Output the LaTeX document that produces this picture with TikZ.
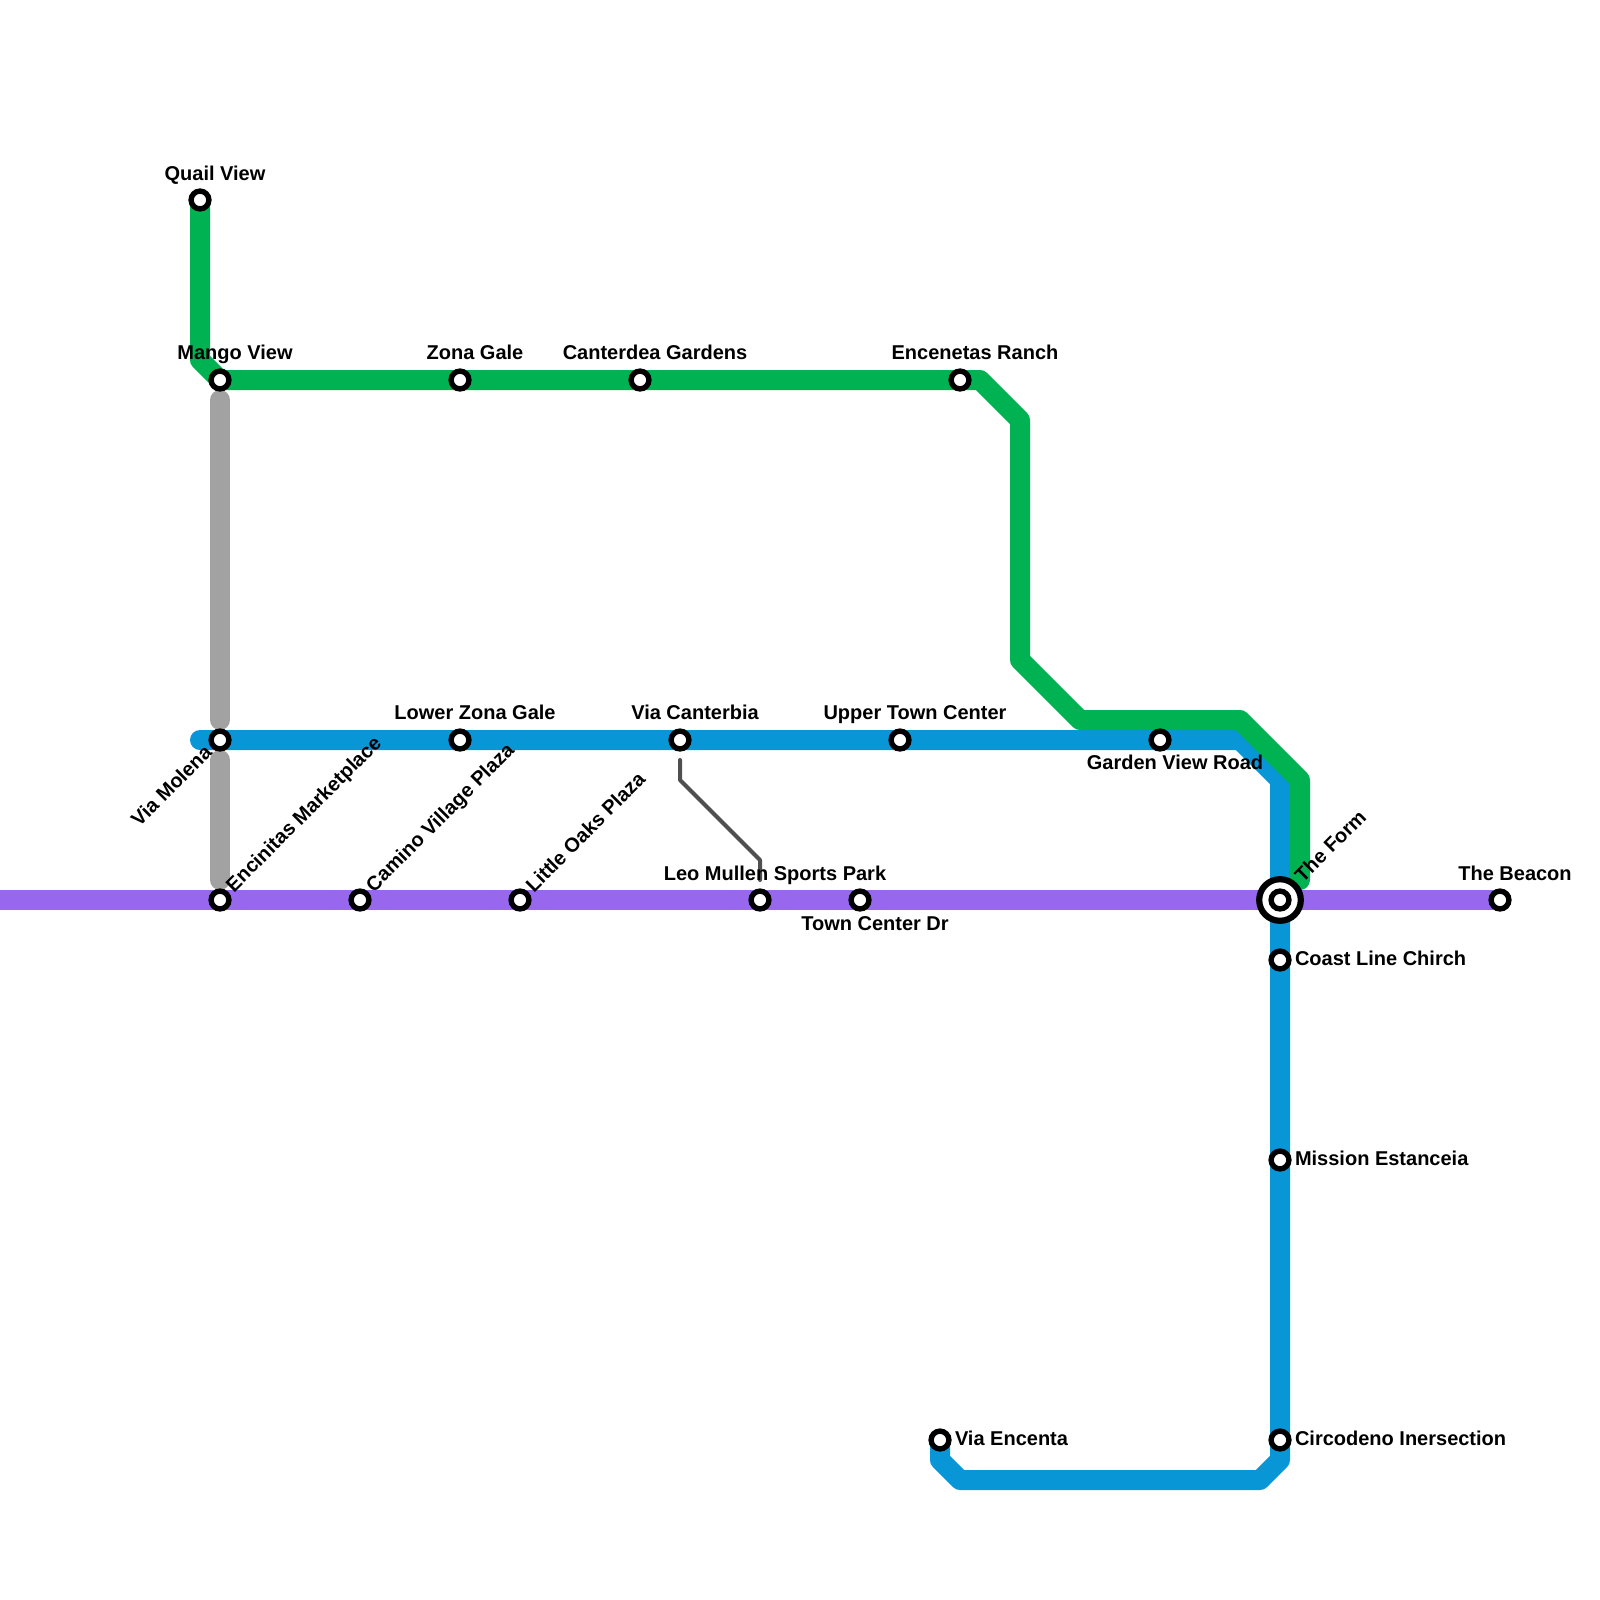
\documentclass[tikz,border=0pt]{standalone}
\usepackage{fontspec}
\setmainfont{Liberation Sans}
\usetikzlibrary{backgrounds}
\definecolor{lgreen}{HTML}{00B251}
\definecolor{lblue}{HTML}{0896D7}
\definecolor{lpurple}{HTML}{9768EE}
\definecolor{lgrey}{HTML}{A2A2A2}
\definecolor{ldark}{HTML}{4F4F4F}
\tikzset{
  x=1pt,y=-1pt,
  stn/.style={circle,draw=black,fill=white,line width=5.4pt,minimum size=17.8pt,inner sep=0pt,outer sep=0pt},
  hubring/.style={circle,draw=black,fill=white,line width=6.2pt,minimum size=41.6pt,inner sep=0pt,outer sep=0pt},
  metro/.style={line width=20pt,line join=round},
  lbl/.style={inner sep=0pt,outer sep=0pt,font=\bfseries\fontsize{20pt}{22pt}\selectfont,text=black},
  lup/.style={lbl,anchor=base},
  lside/.style={lbl,anchor=base west},
  ldiag/.style={lbl,anchor=base west,rotate=45},
  ldiagl/.style={lbl,anchor=base east,rotate=45},
}
\begin{document}
\begin{tikzpicture}
\useasboundingbox (0,0) rectangle (1600,1600);
% stations
\node[stn] (quail) at (200,200) {};
\node[stn] (mango) at (220,380) {};
\node[stn] (zona) at (460,380) {};
\node[stn] (canterdea) at (640,380) {};
\node[stn] (encenetas) at (960,380) {};
\node[stn] (molena) at (220,740) {};
\node[stn] (lowerzona) at (460,740) {};
\node[stn] (canterbia) at (680,740) {};
\node[stn] (uppertown) at (900,740) {};
\node[stn] (garden) at (1160,740) {};
\node[stn] (encinitas) at (220,900) {};
\node[stn] (camino) at (360,900) {};
\node[stn] (oaks) at (520,900) {};
\node[stn] (leo) at (760,900) {};
\node[stn] (towncenter) at (860,900) {};
\node[hubring] (formring) at (1280,900) {};
\node[stn] (form) at (1280,900) {};
\node[stn] (beacon) at (1500,900) {};
\node[stn] (coast) at (1280,960) {};
\node[stn] (mission) at (1280,1160) {};
\node[stn] (circodeno) at (1280,1440) {};
\node[stn] (encenta) at (940,1440) {};
% free ends and bends
\coordinate (gA) at (200,360);
\coordinate (gB) at (980,380);
\coordinate (gC) at (1020,420);
\coordinate (gD) at (1020,660);
\coordinate (gE) at (1080,720);
\coordinate (gF) at (1240,720);
\coordinate (gG) at (1300,780);
\coordinate (gH) at (1300,880);
\coordinate (bStart) at (200,740);
\coordinate (bA) at (1240,740);
\coordinate (bB) at (1280,780);
\coordinate (bC) at (1280,1460);
\coordinate (bD) at (1260,1480);
\coordinate (bE) at (960,1480);
\coordinate (bF) at (940,1460);
\coordinate (pStart) at (0,900);
\coordinate (sA) at (220,400);
\coordinate (sB) at (220,720);
\coordinate (sC) at (220,760);
\coordinate (sD) at (220,880);
\coordinate (dA) at (680,760);
\coordinate (dB) at (680,780);
\coordinate (dC) at (760,860);
\coordinate (dD) at (760,880);
\begin{scope}[on background layer]
\draw[metro,lgrey,line cap=round] (sA) -- (sB);
\draw[metro,lgrey,line cap=round] (sC) -- (sD);
\draw[metro,lpurple] (pStart) -- (encinitas.center) -- (camino.center) -- (oaks.center) -- (leo.center) -- (towncenter.center) -- (form.center) -- (beacon.center);
\draw[metro,lblue,line cap=round] (bStart) -- (molena.center) -- (lowerzona.center) -- (canterbia.center) -- (uppertown.center) -- (garden.center) -- (bA) -- (bB) -- (form.center) -- (coast.center) -- (mission.center) -- (circodeno.center) -- (bC) -- (bD) -- (bE) -- (bF) -- (encenta.center);
\draw[metro,lgreen,line cap=round] (quail.center) -- (gA) -- (mango.center) -- (zona.center) -- (canterdea.center) -- (encenetas.center) -- (gB) -- (gC) -- (gD) -- (gE) -- (gF) -- (gG) -- (gH);
\draw[ldark,line width=4pt,line cap=round,line join=round] (dA) -- (dB) -- (dC) -- (dD);
\end{scope}
% labels
\node[lup] (lquail) at (215,180) {Quail View};
\node[lup] (lmango) at (235,359) {Mango View};
\node[lup] (lzona) at (475,359) {Zona Gale};
\node[lup] (lcanterdea) at (655,359) {Canterdea Gardens};
\node[lup] (lencenetas) at (975,359) {Encenetas Ranch};
\node[lup] (llowerzona) at (475,719) {Lower Zona Gale};
\node[lup] (lcanterbia) at (695,719) {Via Canterbia};
\node[lup] (luppertown) at (915,719) {Upper Town Center};
\node[lup] (lgarden) at (1175,769) {Garden View Road};
\node[lup] (lleo) at (775,880) {Leo Mullen Sports Park};
\node[lup] (ltowncenter) at (875,930) {Town Center Dr};
\node[lup] (lbeacon) at (1515,880) {The Beacon};
\node[lside] (lcoast) at (1295,965) {Coast Line Chirch};
\node[lside] (lmission) at (1295,1165) {Mission Estanceia};
\node[lside] (lcircodeno) at (1295,1445) {Circodeno Inersection};
\node[lside] (lencenta) at (955,1445) {Via Encenta};
\node[ldiagl] (lmolena) at (213,754) {Via Molena};
\node[ldiag] (lencinitas) at (234,893) {Encinitas Marketplace};
\node[ldiag] (lcamino) at (374,893) {Camino Village Plaza};
\node[ldiag] (loaks) at (534,893) {Little Oaks Plaza};
\node[ldiag] (lform) at (1303,883) {The Form};
\end{tikzpicture}
\end{document}
